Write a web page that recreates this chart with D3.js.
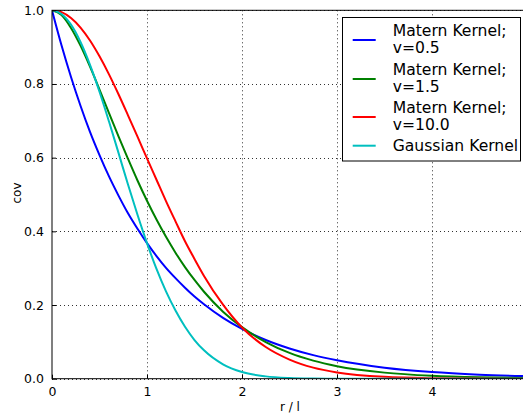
<!DOCTYPE html>
<html>
<head>
<meta charset="utf-8">
<script src="https://cdn.jsdelivr.net/npm/d3@7"></script>
<style>
  body { margin: 0; background: #fff; }
  svg { display: block; font-family: "DejaVu Sans", sans-serif; }
</style>
</head>
<body>
<svg id="chart" width="523" height="417"></svg>
<script>
// ---- data ----
const rValues = [0,0.1,0.2,0.3,0.4,0.5,0.6,0.7,0.8,0.9,1.0,1.1,1.2,1.3,1.4,1.5,1.6,1.8,2.0,2.25,2.5,2.75,3.0,3.5,4.0,4.5,5.0];
const maternNu05 = [1,0.905,0.819,0.741,0.670,0.607,0.549,0.497,0.449,0.407,0.368,0.333,0.301,0.273,0.247,0.223,0.202,0.165,0.135,0.105,0.082,0.064,0.050,0.030,0.018,0.011,0.0067];
const maternNu15 = [1,0.987,0.952,0.904,0.847,0.785,0.721,0.658,0.597,0.538,0.483,0.432,0.385,0.342,0.303,0.268,0.236,0.182,0.140,0.0995,0.070,0.049,0.034,0.0165,0.0078,0.0036,0.0017];
const maternNu10 = [1,0.995,0.979,0.953,0.918,0.875,0.826,0.772,0.715,0.657,0.598,0.540,0.482,0.427,0.373,0.325,0.279,0.201,0.139,0.086,0.052,0.030,0.017,0.005,0.0014,0.0004,0.0001];
const gaussian   = [1,0.990,0.961,0.914,0.852,0.779,0.698,0.613,0.527,0.445,0.368,0.298,0.237,0.185,0.141,0.105,0.077,0.039,0.018,0.0063,0.0019,0.0005,0.0001,0,0,0,0];
const seriesNames = ["Matern Kernel;\nv=0.5", "Matern Kernel;\nv=1.5", "Matern Kernel;\nv=10.0", "Gaussian Kernel"];
const seriesColors = ["#0000ff", "#008000", "#ff0000", "#00bfbf"];
const xTicks = [0,1,2,3,4];
const yTicks = [0.0,0.2,0.4,0.6,0.8,1.0];
const xLabel = "r / l";
const yLabel = "cov";

const allSeries = [maternNu05, maternNu15, maternNu10, gaussian];

const svg = d3.select("#chart");
const L = 52, R = 527, T = 10.3, B = 378.7;
const x = d3.scaleLinear().domain([0,5]).range([L,R]);
const y = d3.scaleLinear().domain([0,1]).range([B,T]);

svg.append("defs").append("clipPath").attr("id","clip")
  .append("rect").attr("x",L).attr("y",T).attr("width",R-L).attr("height",B-T);

// grid
const grid = svg.append("g");
grid.selectAll("line.gx").data(xTicks.slice(1)).join("line")
  .attr("x1",d=>Math.round(x(d))+0.5).attr("x2",d=>Math.round(x(d))+0.5)
  .attr("y1",T).attr("y2",B)
  .attr("stroke","#000").attr("stroke-width",1).attr("stroke-dasharray","1,3").attr("opacity",0.8);
grid.selectAll("line.gy").data(yTicks).join("line")
  .attr("y1",d=>Math.round(y(d))+0.5).attr("y2",d=>Math.round(y(d))+0.5)
  .attr("x1",L).attr("x2",R)
  .attr("stroke","#000").attr("stroke-width",1).attr("stroke-dasharray","1,3").attr("opacity",0.8);

// lines
const line = d3.line().x((d,i)=>x(rValues[i])).y(d=>y(d)).curve(d3.curveMonotoneX);
svg.append("g").attr("clip-path","url(#clip)")
  .selectAll("path").data(allSeries).join("path")
  .attr("d", d=>line(d))
  .attr("fill","none")
  .attr("stroke",(d,i)=>seriesColors[i])
  .attr("stroke-width",2);

// spines
svg.append("rect").attr("x",L).attr("y",T).attr("width",R-L).attr("height",B-T)
  .attr("fill","none").attr("stroke","#000").attr("stroke-width",1);

// axes
const xAxis = d3.axisBottom(x).tickValues(xTicks).tickFormat(d3.format("d")).tickSizeInner(-4).tickSizeOuter(0).tickPadding(8);
const gx = svg.append("g").attr("transform",`translate(0,${B})`).call(xAxis);
const yAxis = d3.axisLeft(y).tickValues(yTicks).tickFormat(d3.format(".1f")).tickSizeInner(-4).tickSizeOuter(0).tickPadding(8);
const gy = svg.append("g").attr("transform",`translate(${L},0)`).call(yAxis);
[gx,gy].forEach(g=>{
  g.select(".domain").remove();
  g.selectAll("text").attr("font-size",12.5).attr("fill","#000").attr("font-family","DejaVu Sans, sans-serif");
  g.selectAll("line").attr("stroke","#000");
});

svg.append("text").attr("x",290).attr("y",411).attr("text-anchor","middle")
  .attr("font-size",12).text(xLabel);
svg.append("text").attr("transform","translate(21,193) rotate(-90)").attr("text-anchor","middle")
  .attr("font-size",12).text(yLabel);

// legend
const leg = svg.append("g");
leg.append("rect").attr("x",342.5).attr("y",17.5).attr("width",178).attr("height",143.5)
  .attr("fill","#fff").attr("stroke","#000").attr("stroke-width",1);
const legY = [40,79,117,145.7];
seriesNames.forEach((name,i)=>{
  leg.append("line").attr("x1",352.7).attr("x2",375.7).attr("y1",legY[i]).attr("y2",legY[i])
    .attr("stroke",seriesColors[i]).attr("stroke-width",2);
  const parts = name.split("\n");
  const t = leg.append("text").attr("font-size",15.6).attr("fill","#000");
  if (parts.length === 2) {
    t.append("tspan").attr("x",392.7).attr("y",legY[i]-4).text(parts[0]);
    t.append("tspan").attr("x",392.7).attr("y",legY[i]+12.7).text(parts[1]);
  } else {
    t.append("tspan").attr("x",392.7).attr("y",legY[i]+5.6).text(parts[0]);
  }
});
</script>
</body>
</html>
